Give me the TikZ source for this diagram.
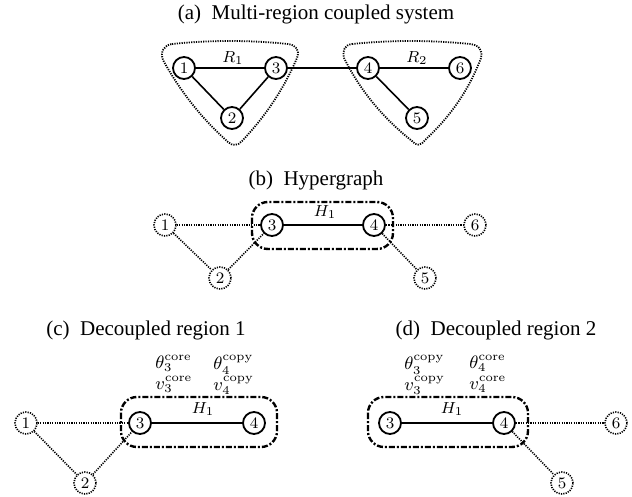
\documentclass[tikz,border=0pt]{standalone}
\usepackage{fontspec}
\newfontfamily\titlefont{Liberation Serif}
\begin{document}
\begin{tikzpicture}[x=0.5pt,y=-0.5pt,
  solidnode/.style={circle,draw,line width=0.9pt,minimum size=11pt,inner sep=0pt,font=\footnotesize},
  dotnode/.style={circle,draw,line width=0.8pt,dash pattern=on 0.6pt off 0.6pt,minimum size=11pt,inner sep=0pt,font=\footnotesize},
  solidedge/.style={line width=0.8pt},
  dotedge/.style={line width=0.8pt,dash pattern=on 0.6pt off 0.6pt},
  region/.style={line width=0.9pt,dash pattern=on 0.6pt off 0.6pt},
  hyper/.style={line width=1.2pt,dash pattern=on 3pt off 1pt on 1pt off 1pt,rounded corners=8pt},
  paneltitle/.style={font=\titlefont\fontsize{10.5}{12}\selectfont},
  lbl/.style={font=\footnotesize,inner sep=0pt},
  varlbl/.style={font=\fontsize{9}{10.4}\selectfont,inner sep=0pt,align=left,anchor=north west}
]
\useasboundingbox (0,0) rectangle (632,497);

% ---------- (a) ----------
\node[paneltitle] (ta) at (316,14) {(a)\ \ Multi-region coupled system};
\draw[region] (172,44) .. controls (210,40) and (250,40) .. (288,44)
  .. controls (296,45) and (300,50) .. (297,58)
  .. controls (283.7,89) and (265.3,116.6) .. (242,141)
  .. controls (238,146) and (232,146) .. (228,142)
  .. controls (201.6,118.4) and (180,91) .. (163,60)
  .. controls (160,52) and (164,45) .. (172,44) -- cycle;
\draw[region] (352,44) .. controls (392,40) and (430,40) .. (470,44)
  .. controls (479,45) and (483,50) .. (481,58)
  .. controls (469,90) and (450,117) .. (425,140)
  .. controls (421,146) and (416,146) .. (412,141)
  .. controls (383,118) and (360.5,91) .. (344,58)
  .. controls (342,50) and (345,45) .. (352,44) -- cycle;
\node[solidnode] (a1) at (184,68) {$1$};
\node[solidnode] (a3) at (276,68) {$3$};
\node[solidnode] (a2) at (232,118) {$2$};
\node[solidnode] (a4) at (368,68) {$4$};
\node[solidnode] (a6) at (460,68) {$6$};
\node[solidnode] (a5) at (417,118) {$5$};
\node[lbl] (r1) at (233,58) {$R_1$};
\node[lbl] (r2) at (417,58) {$R_2$};
\draw[solidedge] (a1) -- (a3);
\draw[solidedge] (a1) -- (a2);
\draw[solidedge] (a2) -- (a3);
\draw[solidedge] (a3) -- (a4);
\draw[solidedge] (a4) -- (a6);
\draw[solidedge] (a4) -- (a5);

% ---------- (b) ----------
\node[paneltitle] (tb) at (316,180) {(b)\ \ Hypergraph};
\draw[hyper] (252,202) rectangle (393,249);
\node[dotnode] (b1) at (165,225) {$1$};
\node[solidnode] (b3) at (272,225) {$3$};
\node[solidnode] (b4) at (374,225) {$4$};
\node[dotnode] (b6) at (475,225) {$6$};
\node[dotnode] (b2) at (220,278) {$2$};
\node[dotnode] (b5) at (425,278) {$5$};
\node[lbl] (h1b) at (325,212) {$H_1$};
\draw[solidedge] (b3) -- (b4);
\draw[dotedge] (b1) -- (b3);
\draw[dotedge] (b1) -- (b2);
\draw[dotedge] (b2) -- (b3);
\draw[dotedge] (b4) -- (b6);
\draw[dotedge] (b4) -- (b5);

% ---------- (c) ----------
\node[paneltitle] (tc) at (146,330) {(c)\ \ Decoupled region 1};
\draw[hyper] (121,397) rectangle (277,447);
\node[dotnode] (c1) at (26,423) {$1$};
\node[solidnode] (c3) at (140,423) {$3$};
\node[solidnode] (c4) at (254,423) {$4$};
\node[dotnode] (c2) at (85,483) {$2$};
\node[lbl] (h1c) at (203,409) {$H_1$};
\node[varlbl] (c3l) at (155,355) {$\theta_3^{\mathrm{core}}$\\$v_3^{\mathrm{core}}$};
\node[varlbl] (c4l) at (213,355) {$\theta_4^{\mathrm{copy}}$\\$v_4^{\mathrm{copy}}$};
\draw[solidedge] (c3) -- (c4);
\draw[dotedge] (c1) -- (c3);
\draw[dotedge] (c1) -- (c2);
\draw[dotedge] (c2) -- (c3);

% ---------- (d) ----------
\node[paneltitle] (td) at (496,330) {(d)\ \ Decoupled region 2};
\draw[hyper] (368,397) rectangle (528,447);
\node[solidnode] (d3) at (390,423) {$3$};
\node[solidnode] (d4) at (504,423) {$4$};
\node[dotnode] (d6) at (616,423) {$6$};
\node[dotnode] (d5) at (562,483) {$5$};
\node[lbl] (h1d) at (452,409) {$H_1$};
\node[varlbl] (d3l) at (404,355) {$\theta_3^{\mathrm{copy}}$\\$v_3^{\mathrm{copy}}$};
\node[varlbl] (d4l) at (469,355) {$\theta_4^{\mathrm{core}}$\\$v_4^{\mathrm{core}}$};
\draw[solidedge] (d3) -- (d4);
\draw[dotedge] (d4) -- (d6);
\draw[dotedge] (d4) -- (d5);
\end{tikzpicture}
\end{document}
